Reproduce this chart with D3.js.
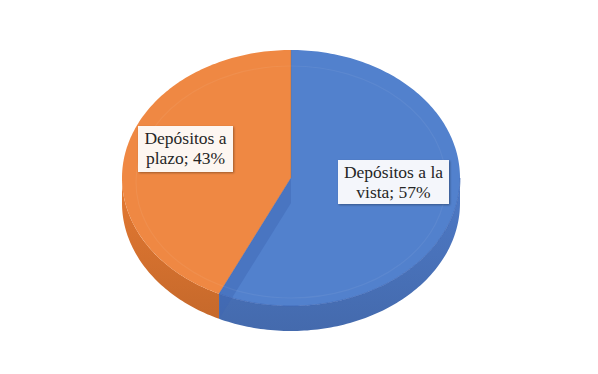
<!DOCTYPE html>
<html><head><meta charset="utf-8">
<script src="https://cdn.jsdelivr.net/npm/d3@7/dist/d3.min.js"></script>
<style>html,body{margin:0;padding:0;background:#fff;}</style>
</head><body>
<svg id="c" width="598" height="374"></svg>
<script>
const categories = ["Depósitos a la vista", "Depósitos a plazo"];
const values = [57, 43];
const labelLines = [["Depósitos a la", "vista; 57%"], ["Depósitos a", "plazo; 43%"]];
const colors = ["#5281cd", "#ef8843"];
const sideColors = ["#4a74bd", "#d8732f"];

const svg = d3.select("#c");
const cx = 291, cy = 178, rx = 169, ry = 128, depth = 25;

const pie = d3.pie().sort(null).value(d => d)(values);
const px = a => cx + rx * Math.sin(a);
const py = a => cy - ry * Math.cos(a);

function arcPts(a0, a1, dy) {
  const n = Math.max(2, Math.ceil(Math.abs(a1 - a0) / 0.02));
  return d3.range(n + 1).map(i => { const a = a0 + (a1 - a0) * i / n; return [px(a), py(a) + dy]; });
}
const line = d3.line();

const defs = svg.append("defs");
sideColors.forEach((c, i) => {
  const g = defs.append("linearGradient").attr("id", "sg" + i).attr("x1", 0).attr("y1", 0).attr("x2", 0).attr("y2", 1);
  g.append("stop").attr("offset", "0%").attr("stop-color", d3.color(c).brighter(0.15));
  g.append("stop").attr("offset", "100%").attr("stop-color", d3.color(c).darker(0.25));
});
const f = defs.append("filter").attr("id", "sh").attr("x", -0.2).attr("y", -0.2).attr("width", 1.4).attr("height", 1.4);
f.append("feDropShadow").attr("dx", 1).attr("dy", 1).attr("stdDeviation", 1.2).attr("flood-color", "#000").attr("flood-opacity", 0.35);

// sides (front half only: PI/2 .. 3PI/2)
pie.forEach((d, i) => {
  const a0 = Math.max(d.startAngle, Math.PI / 2), a1 = Math.min(d.endAngle, 3 * Math.PI / 2);
  if (a1 <= a0) return;
  const pts = arcPts(a0, a1, 0).concat(arcPts(a1, a0, depth));
  svg.append("path").attr("d", line(pts) + "Z").attr("fill", "url(#sg" + i + ")");
});

// top faces
pie.forEach((d, i) => {
  const pts = [[cx, cy]].concat(arcPts(d.startAngle, d.endAngle, 0));
  svg.append("path").attr("d", line(pts) + "Z").attr("fill", colors[i]);
});

// cut face of the first slice at its end angle
{
  const a = pie[0].endAngle;
  const pts = [[cx, cy], [px(a), py(a)], [px(a), py(a) + depth], [cx, cy + depth]];
  svg.append("path").attr("d", line(pts) + "Z").attr("fill", "#3f67b4").attr("opacity", 0.45);
  svg.append("line").attr("x1", cx).attr("y1", cy).attr("x2", px(a)).attr("y2", py(a)).attr("stroke", "#3f67b4").attr("stroke-width", 0.8).attr("opacity", 0.6);
}
// bottom edge of top face on the blue side
{
  const a0 = Math.PI / 2, a1 = pie[0].endAngle;
  svg.append("path").attr("d", line(arcPts(a0, a1, 0))).attr("fill", "none").attr("stroke", "#3f67b4").attr("stroke-width", 1).attr("opacity", 0.7);
}
// faint inner bevel ring
svg.append("ellipse").attr("cx", cx).attr("cy", cy + 4).attr("rx", rx - 14).attr("ry", ry - 12)
  .attr("fill", "none").attr("stroke", "#ffffff").attr("stroke-opacity", 0.06).attr("stroke-width", 1.2);
// center divider line at top
svg.append("line").attr("x1", cx).attr("y1", py(0)).attr("x2", cx).attr("y2", cy).attr("stroke", "#7a6a60").attr("stroke-width", 0.7).attr("opacity", 0.5);

// labels
const boxes = [{x: 338, y: 160, w: 111, h: 44}, {x: 138, y: 126, w: 95, h: 46}];
boxes.forEach((b, i) => {
  const g = svg.append("g");
  g.append("rect").attr("x", b.x).attr("y", b.y).attr("width", b.w).attr("height", b.h)
    .attr("fill", i === 0 ? "#f4f6fb" : "#fdf6f1").attr("filter", "url(#sh)");
  g.selectAll("text").data(labelLines[i]).join("text")
    .attr("x", b.x + b.w / 2).attr("y", (d, j) => b.y + 18 + j * 20)
    .attr("text-anchor", "middle").attr("font-family", "Liberation Serif, Times New Roman, serif")
    .attr("font-size", 17.5).attr("fill", "#262626").text(d => d);
});
</script>
</body></html>
